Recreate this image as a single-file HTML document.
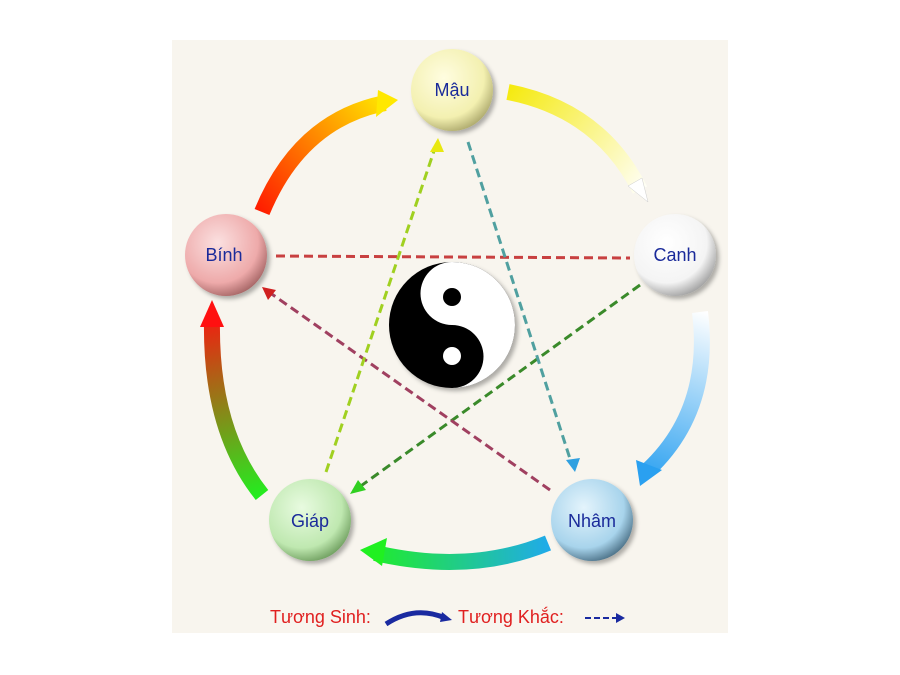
<!DOCTYPE html>
<html><head><meta charset="utf-8"><style>
html,body{margin:0;padding:0;background:#fff;}
svg{display:block}
text{font-family:"Liberation Sans",sans-serif}
</style></head><body>
<svg width="900" height="675" viewBox="0 0 900 675">
<defs>
<radialGradient id="gY" cx="0.4" cy="0.35" r="0.7"><stop offset="0" stop-color="#fffde0"/><stop offset="0.7" stop-color="#f3f0b0"/><stop offset="1" stop-color="#a8a468"/></radialGradient>
<radialGradient id="gW" cx="0.4" cy="0.35" r="0.7"><stop offset="0" stop-color="#ffffff"/><stop offset="0.7" stop-color="#f4f4f4"/><stop offset="1" stop-color="#9a9a9a"/></radialGradient>
<radialGradient id="gR" cx="0.4" cy="0.35" r="0.7"><stop offset="0" stop-color="#fbe0e0"/><stop offset="0.7" stop-color="#eeaaaa"/><stop offset="1" stop-color="#a06060"/></radialGradient>
<radialGradient id="gG" cx="0.4" cy="0.35" r="0.7"><stop offset="0" stop-color="#e8fbe0"/><stop offset="0.7" stop-color="#bfe8b0"/><stop offset="1" stop-color="#6a9a5a"/></radialGradient>
<radialGradient id="gB" cx="0.4" cy="0.35" r="0.7"><stop offset="0" stop-color="#e4f4fc"/><stop offset="0.7" stop-color="#a8d4ec"/><stop offset="1" stop-color="#456a80"/></radialGradient>
<linearGradient id="a1" x1="260" y1="215" x2="395" y2="100" gradientUnits="userSpaceOnUse"><stop offset="0" stop-color="#ff1a00"/><stop offset="1" stop-color="#ffee00"/></linearGradient>
<linearGradient id="a2" x1="505" y1="95" x2="645" y2="200" gradientUnits="userSpaceOnUse"><stop offset="0" stop-color="#f5ea10"/><stop offset="1" stop-color="#ffffff"/></linearGradient>
<linearGradient id="a3" x1="700" y1="310" x2="640" y2="480" gradientUnits="userSpaceOnUse"><stop offset="0" stop-color="#ffffff"/><stop offset="1" stop-color="#2aa0f0"/></linearGradient>
<linearGradient id="a4" x1="555" y1="540" x2="360" y2="550" gradientUnits="userSpaceOnUse"><stop offset="0" stop-color="#20a8f0"/><stop offset="1" stop-color="#20f020"/></linearGradient>
<linearGradient id="a5" x1="255" y1="500" x2="210" y2="305" gradientUnits="userSpaceOnUse"><stop offset="0" stop-color="#20f020"/><stop offset="1" stop-color="#ff1010"/></linearGradient>
<filter id="sh" x="-30%" y="-30%" width="160%" height="160%"><feDropShadow dx="3" dy="3" stdDeviation="2" flood-color="#000" flood-opacity="0.3"/></filter>
</defs>
<rect x="172" y="40" width="556" height="593" fill="#f8f5ee"/>
<g fill="none" stroke-linecap="butt">
<path d="M262,212 Q300,120 385,103" stroke="url(#a1)" stroke-width="16"/>
<path d="M508,92 Q600,110 640,190" stroke="url(#a2)" stroke-width="16"/>
<path d="M700,312 Q712,410 648,470" stroke="url(#a3)" stroke-width="16"/>
<path d="M548,543 Q470,575 375,553" stroke="url(#a4)" stroke-width="16"/>
<path d="M262,495 Q210,430 212,320" stroke="url(#a5)" stroke-width="16"/>
</g>
<polygon points="378,90 398,100 376,117" fill="#ffe800"/>
<polygon points="628,186 648,202 642,178" fill="#ffffff" stroke="#ccc" stroke-width="0.5"/>
<polygon points="636,460 640,486 662,470" fill="#2aa0f0"/>
<polygon points="387,538 360,550 382,566" fill="#20f020"/>
<polygon points="200,327 212,300 224,327" fill="#ff1010"/>
<g fill="none" stroke-width="3" stroke-dasharray="9,5">
<path d="M276,256 L630,258" stroke="#c84040"/>
<path d="M640,285 L358,488" stroke="#3a8a2a"/>
<path d="M550,490 L266,290" stroke="#a04060"/>
<path d="M326,472 L436,145" stroke="#a0d020"/>
<path d="M468,142 L572,465" stroke="#50a0a0"/>
</g>
<polygon points="350,494 358,480 366,490" fill="#30d020"/>
<polygon points="262,287 276,290 268,300" fill="#d02020"/>
<polygon points="438,138 430,152 444,152" fill="#e8e810"/>
<polygon points="575,472 566,460 580,458" fill="#30a0e0"/>
<g filter="url(#sh)">
<circle cx="452" cy="325" r="63" fill="#000"/>
<path d="M452,262 A63,63 0 0 1 452,388 A31.5,31.5 0 0 0 452,325 A31.5,31.5 0 0 1 452,262Z" fill="#fff"/>
<circle cx="452" cy="297" r="9" fill="#000"/>
<circle cx="452" cy="356" r="9" fill="#fff"/>
</g>
<g filter="url(#sh)">
<circle cx="452" cy="90" r="41" fill="url(#gY)"/>
<circle cx="675" cy="255" r="41" fill="url(#gW)"/>
<circle cx="226" cy="255" r="41" fill="url(#gR)"/>
<circle cx="310" cy="520" r="41" fill="url(#gG)"/>
<circle cx="592" cy="520" r="41" fill="url(#gB)"/>
</g>
<g fill="#1a2a9a" font-size="18" text-anchor="middle">
<text x="452" y="96">Mậu</text>
<text x="675" y="261">Canh</text>
<text x="224" y="261">Bính</text>
<text x="310" y="527">Giáp</text>
<text x="592" y="527">Nhâm</text>
</g>
<g font-size="18" fill="#e02020">
<text x="270" y="623">Tương Sinh:</text>
<text x="458" y="623">Tương Khắc:</text>
</g>
<path d="M386,624 Q415,605 445,618" stroke="#1a2aa0" stroke-width="5" fill="none"/>
<polygon points="442,612 452,620 440,622" fill="#1a2aa0"/>
<path d="M585,618 L616,618" stroke="#1a2aa0" stroke-width="2" stroke-dasharray="6,3"/>
<polygon points="616,613 625,618 616,623" fill="#1a2aa0"/>
</svg>
</body></html>
